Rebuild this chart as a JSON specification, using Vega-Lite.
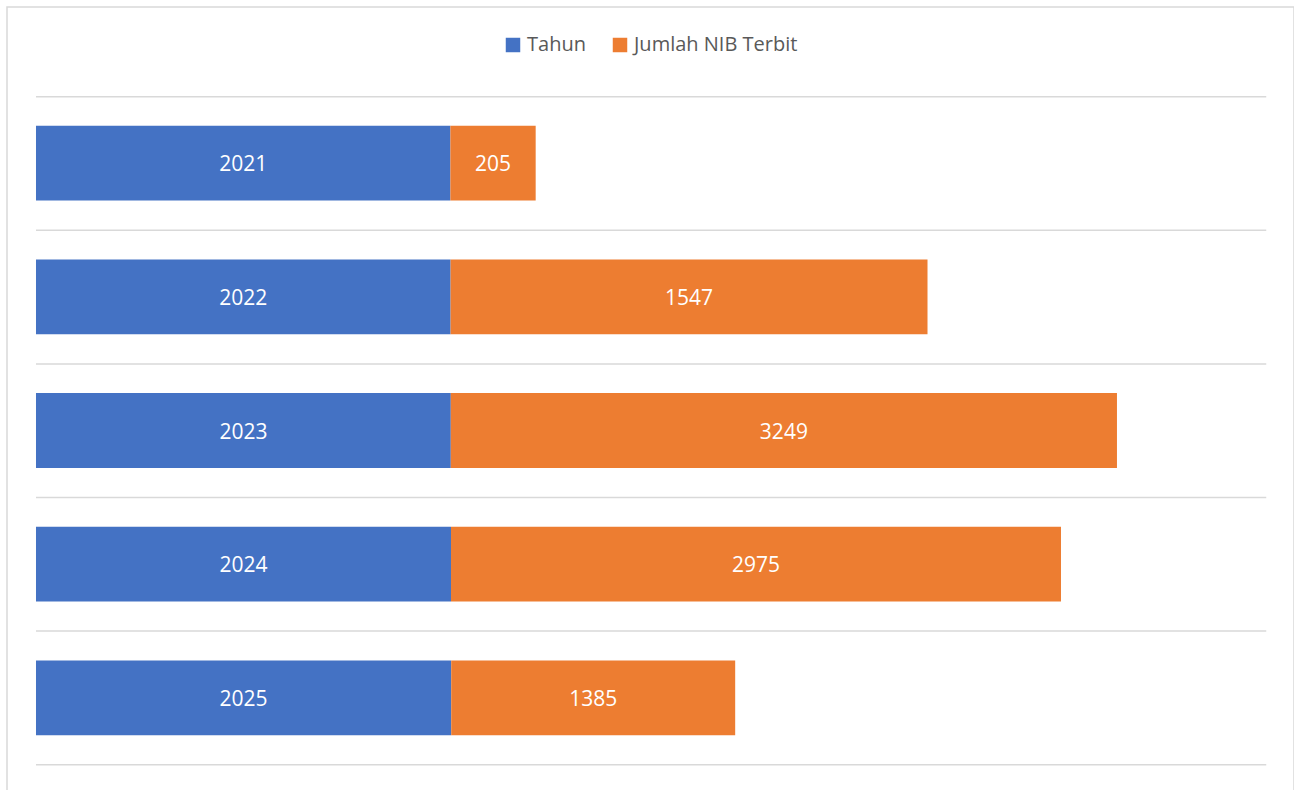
{
  "$schema": "https://vega.github.io/schema/vega-lite/v6.json",
  "width": 1287,
  "height": 847,
  "autosize": {"type": "none"},
  "padding": {"left": 7, "top": 7, "right": 0, "bottom": 0},
  "background": "#ffffff",
  "config": {"view": {"stroke": "#d9d9d9", "strokeWidth": 1.5}, "font": "Open Sans"},
  "datasets": {
    "bars": [
      {"kategori": "2021", "seri": "Tahun", "nilai": 2021, "label": "2021", "urut": 0},
      {"kategori": "2021", "seri": "Jumlah NIB Terbit", "nilai": 416, "label": "205", "urut": 1},
      {"kategori": "2022", "seri": "Tahun", "nilai": 2022, "label": "2022", "urut": 0},
      {"kategori": "2022", "seri": "Jumlah NIB Terbit", "nilai": 2326, "label": "1547", "urut": 1},
      {"kategori": "2023", "seri": "Tahun", "nilai": 2023, "label": "2023", "urut": 0},
      {"kategori": "2023", "seri": "Jumlah NIB Terbit", "nilai": 3249, "label": "3249", "urut": 1},
      {"kategori": "2024", "seri": "Tahun", "nilai": 2024, "label": "2024", "urut": 0},
      {"kategori": "2024", "seri": "Jumlah NIB Terbit", "nilai": 2975, "label": "2975", "urut": 1},
      {"kategori": "2025", "seri": "Tahun", "nilai": 2025, "label": "2025", "urut": 0},
      {"kategori": "2025", "seri": "Jumlah NIB Terbit", "nilai": 1385, "label": "1385", "urut": 1}
    ],
    "grid": [{"k": 0}, {"k": 1}, {"k": 2}, {"k": 3}, {"k": 4}, {"k": 5}]
  },
  "layer": [
    {
      "data": {"name": "grid"},
      "mark": {"type": "rule", "color": "#d9d9d9", "strokeWidth": 1.5},
      "encoding": {
        "y": {"field": "k", "type": "quantitative", "scale": {"domain": [-0.6714, 5.6684], "reverse": true, "nice": false, "zero": false}, "axis": null},
        "x": {"datum": 0, "type": "quantitative", "scale": {"domain": [-141.4, 6135.4], "nice": false, "zero": false}, "axis": null},
        "x2": {"datum": 6000}
      }
    },
    {
      "layer": [
        {
          "data": {"name": "bars"},
          "mark": {"type": "bar"},
          "encoding": {
            "y": {"field": "kategori", "type": "nominal", "sort": null, "scale": {"paddingInner": 0.44, "paddingOuter": 0.8885}, "axis": null},
            "x": {"field": "nilai", "type": "quantitative", "stack": "zero", "scale": {"domain": [-141.4, 6135.4], "nice": false, "zero": false}, "axis": null},
            "color": {
              "field": "seri", "type": "nominal",
              "scale": {"domain": ["Tahun", "Jumlah NIB Terbit"], "range": ["#4472C4", "#ED7D31"]},
              "legend": {
                "orient": "none", "legendX": 496, "legendY": 28, "direction": "horizontal",
                "title": null, "symbolType": "square", "symbolSize": 210, "symbolStrokeWidth": 0,
                "labelFontSize": 20, "labelColor": "#595959", "labelFont": "Open Sans", "labelLimit": 0,
                "columnPadding": 24, "labelOffset": 4, "padding": 0
              }
            },
            "order": {"field": "urut", "type": "quantitative"}
          }
        },
        {
          "data": {"name": "bars"},
          "transform": [
            {"stack": "nilai", "groupby": ["kategori"], "sort": [{"field": "urut"}], "as": ["x0", "x1"]},
            {"calculate": "(datum.x0 + datum.x1) / 2", "as": "mid"}
          ],
          "mark": {"type": "text", "color": "#ffffff", "fontSize": 21, "font": "Open Sans", "dy": 2},
          "encoding": {
            "y": {"field": "kategori", "type": "nominal", "sort": null, "axis": null},
            "x": {"field": "mid", "type": "quantitative"},
            "text": {"field": "label"}
          }
        }
      ]
    }
  ],
  "resolve": {"scale": {"y": "independent"}}
}
